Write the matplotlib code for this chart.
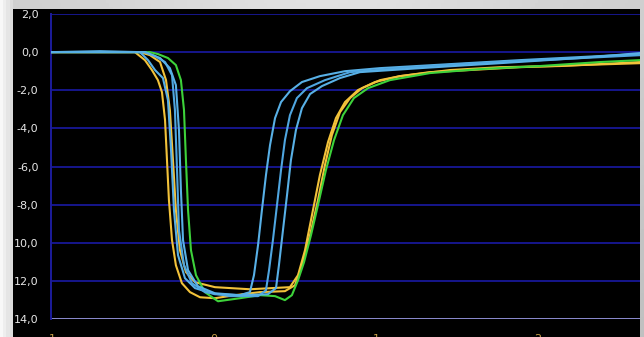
import matplotlib
matplotlib.use("Agg")
import matplotlib.pyplot as plt
import numpy as np

# --- dados (tempo, valor) ---
t_amarelo1 = [-1.0, -0.704, -0.488, -0.426, -0.383, -0.346, -0.321, -0.302, -0.290, -0.278,
              -0.259, -0.235, -0.198, -0.148, -0.086, 0.006, 0.130, 0.284, 0.438, 0.500,
              0.543, 0.593, 0.642, 0.685, 0.728, 0.778, 0.840, 0.914, 1.025, 1.148,
              1.333, 1.580, 1.889, 2.259, 2.630]
v_amarelo1 = [0, 0, 0, -0.42, -0.94, -1.47, -2.10, -3.57, -5.67, -7.76,
              -9.86, -11.18, -12.12, -12.59, -12.86, -12.91, -12.75, -12.59, -12.54, -12.23,
              -11.18, -9.60, -7.76, -5.93, -4.35, -3.15, -2.41, -1.89, -1.47, -1.26,
              -1.05, -0.94, -0.79, -0.68, -0.58]

t_amarelo2 = [-1.0, -0.457, -0.395, -0.333, -0.296, -0.272, -0.253, -0.235, -0.210, -0.173,
              -0.117, 0.006, 0.222, 0.469, 0.519, 0.562, 0.605, 0.654, 0.704, 0.753,
              0.809, 0.889, 0.994, 1.148, 1.457, 1.765, 2.136, 2.630]
v_amarelo2 = [0, 0, -0.16, -0.52, -1.47, -3.04, -5.67, -8.29, -10.39, -11.54,
              -12.07, -12.33, -12.44, -12.33, -11.70, -10.39, -8.55, -6.45, -4.72, -3.46,
              -2.62, -1.99, -1.57, -1.26, -0.94, -0.79, -0.73, -0.52]

t_verde = [-1.0, -0.395, -0.346, -0.284, -0.235, -0.204, -0.185, -0.173, -0.160, -0.142,
           -0.111, -0.056, 0.025, 0.160, 0.284, 0.377, 0.438, 0.481, 0.519, 0.556,
           0.599, 0.642, 0.691, 0.741, 0.796, 0.864, 0.951, 1.086, 1.333, 1.642,
           2.012, 2.383, 2.630]
v_verde = [0, 0, -0.10, -0.31, -0.68, -1.47, -3.04, -5.67, -8.29, -10.39,
           -11.70, -12.59, -13.07, -12.91, -12.75, -12.80, -13.01, -12.75, -11.96, -11.02,
           -9.60, -8.03, -6.19, -4.62, -3.31, -2.41, -1.89, -1.47, -1.10, -0.89,
           -0.73, -0.52, -0.42]

t_azul1 = [-1.0, -0.704, -0.457, -0.407, -0.364, -0.315, -0.284, -0.265, -0.247, -0.222,
           -0.179, -0.117, 0.006, 0.160, 0.222, 0.247, 0.272, 0.296, 0.321, 0.346,
           0.377, 0.414, 0.469, 0.543, 0.654, 0.809, 1.025, 1.457, 1.889, 2.259, 2.630]
v_azul1 = [0, 0.05, 0, -0.42, -0.94, -1.36, -2.52, -5.14, -8.29, -10.65,
           -11.86, -12.38, -12.70, -12.75, -12.59, -11.70, -10.13, -8.29, -6.45, -4.88,
           -3.46, -2.62, -2.05, -1.57, -1.26, -1.00, -0.84, -0.63, -0.42, -0.26, -0.10]

t_azul2 = [-1.0, -0.426, -0.364, -0.302, -0.259, -0.241, -0.228, -0.216, -0.185, -0.136,
           -0.056, 0.099, 0.272, 0.321, 0.340, 0.364, 0.389, 0.414, 0.438, 0.469,
           0.512, 0.574, 0.685, 0.840, 1.148, 1.519, 2.012, 2.630]
v_azul2 = [0, 0, -0.21, -0.52, -1.21, -3.04, -6.19, -9.34, -11.18, -12.12,
           -12.59, -12.80, -12.80, -12.49, -11.44, -9.86, -8.03, -6.19, -4.62, -3.31,
           -2.41, -1.89, -1.47, -1.05, -0.84, -0.63, -0.42, -0.16]

t_azul3 = [-1.0, -0.426, -0.333, -0.272, -0.235, -0.216, -0.204, -0.191, -0.160, -0.099,
           0.006, 0.160, 0.333, 0.383, 0.401, 0.426, 0.451, 0.475, 0.506, 0.543,
           0.593, 0.667, 0.778, 0.901, 1.272, 1.765, 2.259, 2.630]
v_azul3 = [0, 0, -0.31, -0.84, -1.73, -4.09, -7.24, -9.86, -11.44, -12.28,
           -12.65, -12.75, -12.70, -12.38, -11.18, -9.34, -7.50, -5.67, -4.09, -2.94,
           -2.20, -1.78, -1.36, -1.05, -0.84, -0.58, -0.31, -0.05]

y_ticks = [2, 0, -2, -4, -6, -8, -10, -12, -14]
y_rotulos = ["2,0", "0,0", "-2,0", "-4,0", "-6,0", "-8,0", "10,0", "12,0", "14,0"]
x_ticks = [-1, 0, 1, 2]
x_rotulos = ["1", "0", "1", "2"]

AMARELO = "#f2c23a"
VERDE = "#3dd23a"
AZUL = "#58b0e6"
AZUL2 = "#4fa6e0"

W, H = 644, 337
fig = plt.figure(figsize=(W / 100, H / 100), dpi=100)

# fundo cinza em degradê (moldura da captura de tela)
fundo = fig.add_axes([0, 0, 1, 1])
gx = np.linspace(0, 1, 200)
gy = np.linspace(0, 1, 100)
GX, GY = np.meshgrid(gx, gy)
img = 0.80 + 0.08 * np.exp(-((GX - 0.5) / 0.35) ** 2) - 0.06 * GY
img[:, :4] = np.linspace(0.97, 0.86, 4)
fundo.imshow(img, cmap="gray", vmin=0, vmax=1, aspect="auto", extent=[0, 1, 0, 1])
fundo.set_xlim(0, 1)
fundo.set_ylim(0, 1)
fundo.axis("off")

# painel preto
painel = fig.add_axes([13 / W, 0, (640 - 13) / W, (H - 9) / H])
painel.set_facecolor("black")
painel.set_xticks([])
painel.set_yticks([])
for s in painel.spines.values():
    s.set_visible(False)

# área do gráfico
ax = fig.add_axes([51 / W, (H - 319) / H, (640 - 51) / W, (319 - 14) / H])
ax.set_facecolor("black")
ax.set_xlim(-1.006, 2.63)
ax.set_ylim(-14, 2)

for y in y_ticks:
    cor = "#8c8cd0" if y == -14 else "#16168c"
    ax.axhline(y, color=cor, lw=1.4, zorder=1)

for s in ["top", "right", "bottom"]:
    ax.spines[s].set_visible(False)
ax.spines["left"].set_color("#1c1c9c")
ax.spines["left"].set_linewidth(1.4)

ax.plot(t_amarelo1, v_amarelo1, color=AMARELO, lw=1.5, zorder=3)
ax.plot(t_amarelo2, v_amarelo2, color=AMARELO, lw=1.5, zorder=3)
ax.plot(t_azul1, v_azul1, color=AZUL, lw=1.5, zorder=4)
ax.plot(t_azul2, v_azul2, color=AZUL2, lw=1.5, zorder=4)
ax.plot(t_azul3, v_azul3, color=AZUL, lw=1.5, zorder=4)
ax.plot(t_verde, v_verde, color=VERDE, lw=1.5, zorder=3.5)

ax.set_yticks(y_ticks)
ax.set_yticklabels(y_rotulos, color="#e6e6e6", fontsize=8)
ax.set_xticks(x_ticks)
ax.set_xticklabels(x_rotulos, color="#c8a048", fontsize=8)
ax.tick_params(axis="y", length=0, pad=9)
ax.tick_params(axis="x", length=0, pad=11)

fig.savefig("out.png", dpi=100)
